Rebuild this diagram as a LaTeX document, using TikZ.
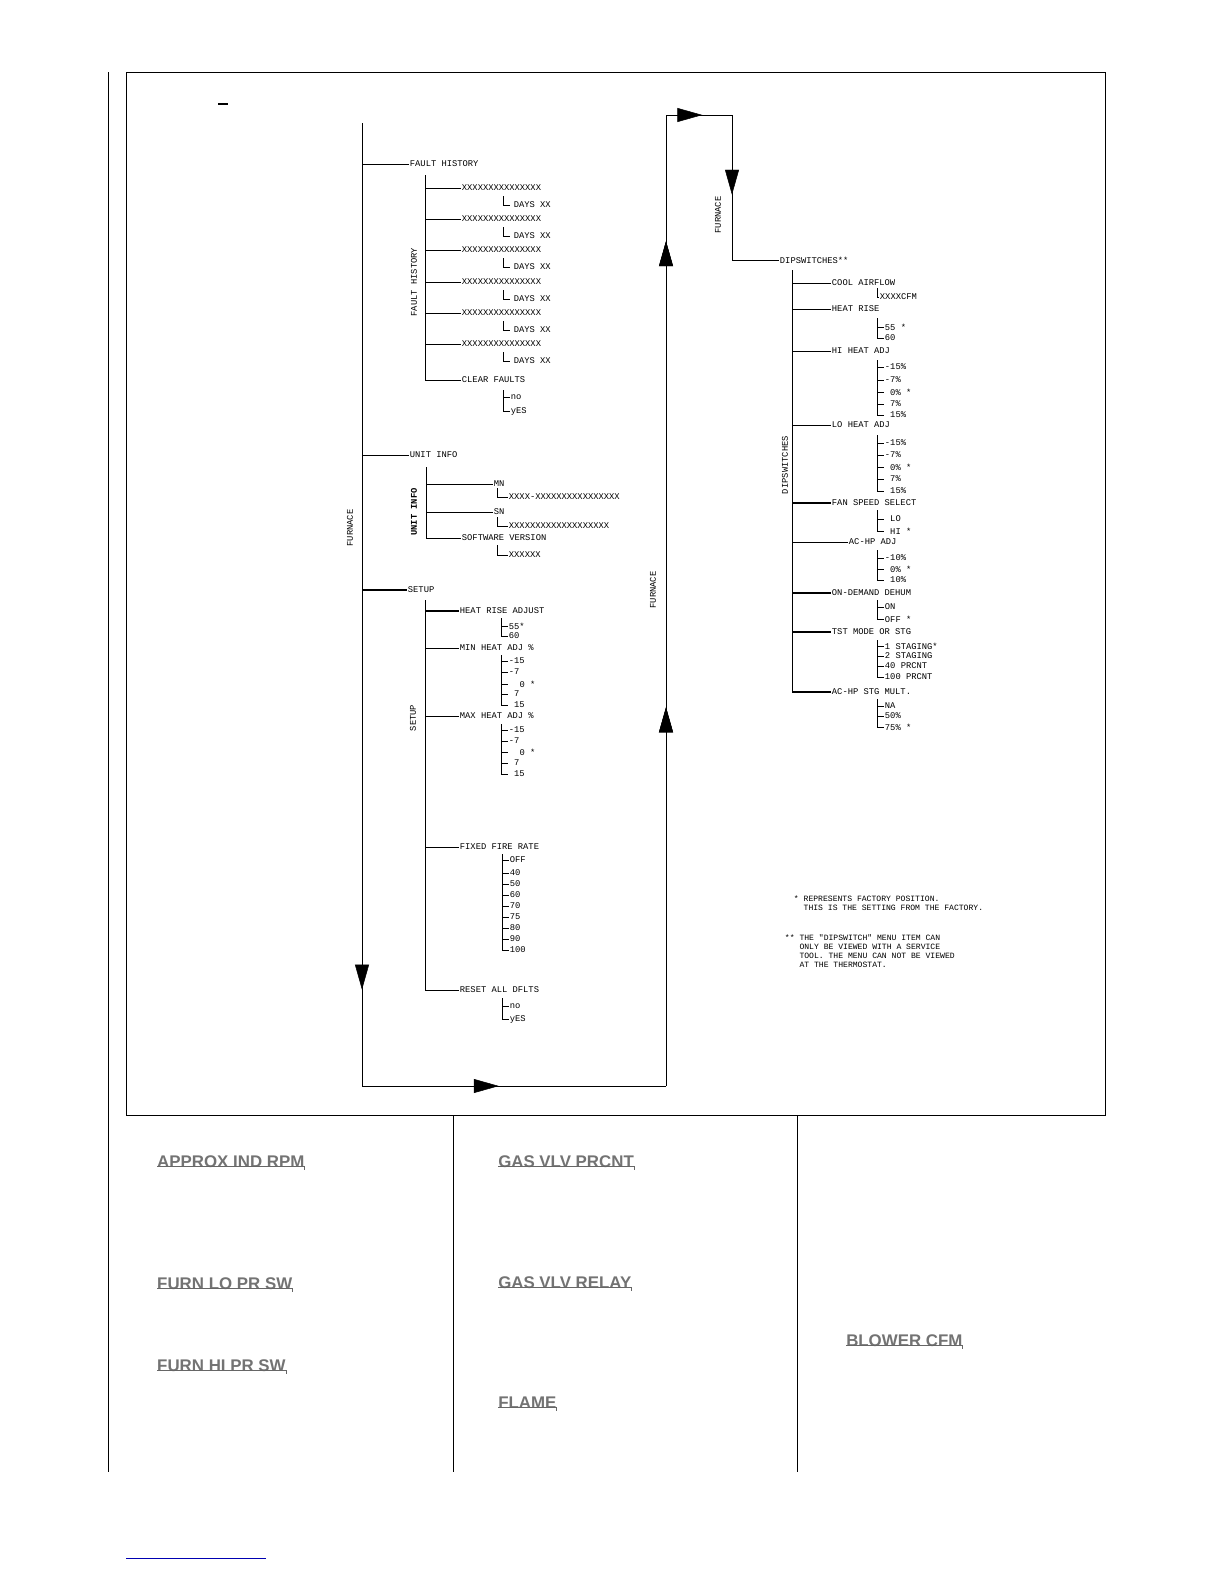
\documentclass[tikz,border=0pt]{standalone}
\usepackage{fontspec}
\usetikzlibrary{arrows.meta,decorations.markings}
\newfontfamily\menufont{Liberation Mono}
\newfontfamily\headfont{Liberation Sans}
\tikzset{
  lbl/.style={anchor=west,inner sep=1pt,font=\menufont\fontsize{12.5}{14}\selectfont},
  side/.style={lbl,anchor=center,rotate=90},
  note/.style={lbl,align=left,anchor=north west,font=\menufont\fontsize{11.5}{12.6}\selectfont},
  head/.style={anchor=south west,inner sep=0pt,font=\headfont\bfseries\fontsize{24}{26}\selectfont,text=black!55},
  heavy/.style={line width=1.6pt},
  flow/.style={decoration={markings,mark=at position #1 with {\arrow{Triangle[length=1.25cm,width=0.7cm]}}},postaction={decorate}}
}
% sub list: spine x, top y, name, list of y/text
\newcommand{\sublist}[4]{%
  \foreach \yy/\txt [count=\i] in {#4}{%
    \draw (#1,\yy) -- ++(7,0) node[lbl,name=#3\i]{\txt};
    \xdef\lasty{\yy}}
  \draw (#1,#2) -- (#1,\lasty);}
\begin{document}
\begin{tikzpicture}[x=0.05cm,y=-0.05cm,line width=0.7pt]
\useasboundingbox (0,0) rectangle (1224,1584);
%Frame
\draw (108,72) -- (108,1472);
\draw (126,72) rectangle (1105,1115);
\draw (453,1115) -- (453,1472);
\draw (797,1115) -- (797,1472);
\draw[line width=1.5pt] (218,104) -- (228,104);
\draw[blue!70!black] (126,1558) -- (266,1558);

%Flow loop
\coordinate (top) at (362,123);
\coordinate (bl) at (362,1086);
\coordinate (br) at (666,1086);
\coordinate (tr) at (666,115);
\coordinate (tt) at (732,115);
\coordinate (dip) at (732,260);
\draw[flow=0.9] (top) -- (bl);
\draw[flow=0.45] (bl) -- (br);
\draw[flow=0.39,flow=0.87] (br) -- (tr);
\draw[flow=0.55] (tr) -- (tt);
\draw[flow=0.55] (tt) -- (dip);
\node[side] (furn1) at (350,528) {FURNACE};
\node[side] (furn2) at (653,590) {FURNACE};
\node[side] (furn3) at (718,215) {FURNACE};

%Fault history
\node[lbl] (fh) at (409,164) {FAULT HISTORY};
\draw (362,164) -- (fh.west);
\draw (425,175) -- (425,380);
\node[side] (fhs) at (414,282) {FAULT HISTORY};
\foreach \yy [count=\i] in {188,219,250,282,313,344}{
  \draw (425,\yy) -- (461,\yy) node[lbl,name=fx\i]{XXXXXXXXXXXXXXX};
  \draw (503,\yy+8) |- (510,\yy+17) node[lbl,xshift=4,name=fd\i]{DAYS XX};
}
\node[lbl] (clr) at (461,380) {CLEAR FAULTS};
\draw (425,380) -- (clr.west);
\sublist{503}{390}{cf}{397/no,411/yES}

%Unit info
\node[lbl] (ui) at (409,455) {UNIT INFO};
\draw (362,455) -- (ui.west);
\draw (426,467) -- (426,538);
\node[side,font=\menufont\bfseries\fontsize{12.5}{14}\selectfont] (uis) at (414,512) {UNIT INFO};
\node[lbl] (mn) at (493,484) {MN};
\draw (426,484) -- (mn.west);
\draw (497,488) |- (508,497) node[lbl,name=mnv]{XXXX-XXXXXXXXXXXXXXXX};
\node[lbl] (sn) at (493,512) {SN};
\draw (426,512) -- (sn.west);
\draw (497,517) |- (508,526) node[lbl,name=snv]{XXXXXXXXXXXXXXXXXXX};
\node[lbl] (sw) at (461,538) {SOFTWARE VERSION};
\draw (426,538) -- (sw.west);
\draw (497,545) |- (508,555) node[lbl,name=swv]{XXXXXX};

%Setup
\node[lbl] (su) at (407,590) {SETUP};
\draw[heavy] (362,590) -- (su.west);
\draw (425,600) -- (425,990);
\node[side] (sus) at (413,718) {SETUP};
\node[lbl] (hra) at (459,611) {HEAT RISE ADJUST};
\draw[heavy] (425,611) -- (hra.west);
\sublist{501}{618}{hr}{626/55*,636/60}
\node[lbl] (mnh) at (459,648) {MIN HEAT ADJ \%};
\draw (425,648) -- (mnh.west);
\sublist{501}{655}{mh}{661/-15,672/-7,684/\ \ 0 *,694/\ 7,705/\ 15}
\node[lbl] (mxh) at (459,716) {MAX HEAT ADJ \%};
\draw (425,716) -- (mxh.west);
\sublist{501}{724}{xh}{730/-15,741/-7,752/\ \ 0 *,763/\ 7,774/\ 15}
\node[lbl] (ffr) at (459,847) {FIXED FIRE RATE};
\draw (425,847) -- (ffr.west);
\sublist{502}{854}{fr}{860/OFF,873/40,884/50,895/60,906/70,917/75,928/80,939/90,950/100}
\node[lbl] (rst) at (459,990) {RESET ALL DFLTS};
\draw (425,990) -- (rst.west);
\sublist{502}{998}{rd}{1006/no,1019/yES}

%Dipswitches
\node[lbl] (dsw) at (779,260) {DIPSWITCHES**};
\draw (dip) -- (dsw.west);
\draw (792,270) -- (792,692);
\node[side] (dss) at (785,465) {DIPSWITCHES};
\node[lbl] (caf) at (831,283) {COOL AIRFLOW};
\draw (792,283) -- (caf.west);
\draw (877,288) |- (879,297) node[lbl,name=cfm]{XXXXCFM};
\node[lbl] (hrs) at (831,309) {HEAT RISE};
\draw (792,309) -- (hrs.west);
\sublist{877}{318}{rs}{327/55 *,338/60}
\node[lbl] (hha) at (831,351) {HI HEAT ADJ};
\draw (792,351) -- (hha.west);
\sublist{877}{360}{hi}{367/-15\%,380/-7\%,392/\ 0\% *,404/\ 7\%,415/\ 15\%}
\node[lbl] (lha) at (831,425) {LO HEAT ADJ};
\draw (792,425) -- (lha.west);
\sublist{877}{435}{lo}{443/-15\%,455/-7\%,467/\ 0\% *,479/\ 7\%,491/\ 15\%}
\node[lbl] (fss) at (831,503) {FAN SPEED SELECT};
\draw[heavy] (792,503) -- (fss.west);
\sublist{877}{510}{fs}{519/\ LO,531/\ HI *}
\node[lbl] (ach) at (848,542) {AC-HP ADJ};
\draw (792,542) -- (ach.west);
\sublist{877}{550}{ac}{558/-10\%,569/\ 0\% *,580/\ 10\%}
\node[lbl] (odd) at (831,593) {ON-DEMAND DEHUM};
\draw[heavy] (792,593) -- (odd.west);
\sublist{877}{600}{od}{607/ON,619/OFF *}
\node[lbl] (tst) at (831,632) {TST MODE OR STG};
\draw[heavy] (792,632) -- (tst.west);
\sublist{877}{640}{ts}{646/1 STAGING*,656/2 STAGING,666/40 PRCNT,677/100 PRCNT}
\node[lbl] (stg) at (831,692) {AC-HP STG MULT.};
\draw[heavy] (792,692) -- (stg.west);
\sublist{877}{699}{sm}{706/NA,716/50\%,727/75\% *}

%Notes
\node[note] (n1) at (793,895) {* REPRESENTS FACTORY POSITION.\\\ \ THIS IS THE SETTING FROM THE FACTORY.};
\node[note] (n2) at (784,934) {** THE "DIPSWITCH" MENU ITEM CAN\\\ \ \ ONLY BE VIEWED WITH A SERVICE\\\ \ \ TOOL. THE MENU CAN NOT BE VIEWED\\\ \ \ AT THE THERMOSTAT.};

%Bottom headings
\foreach \xx/\yy/\txt [count=\i] in {157/1168/APPROX IND RPM,157/1290/FURN LO PR SW,157/1372/FURN HI PR SW,498/1168/GAS VLV PRCNT,498/1289/GAS VLV RELAY,498/1409/FLAME,846/1347/BLOWER CFM}{
  \node[head,name=hd\i] at (\xx,\yy) {\txt};
  \draw[black!60] (hd\i.south west) ++(0,-2) -- ++(0,0) -| ([yshift=-0.1cm]hd\i.south east);
}
\end{tikzpicture}
\end{document}
